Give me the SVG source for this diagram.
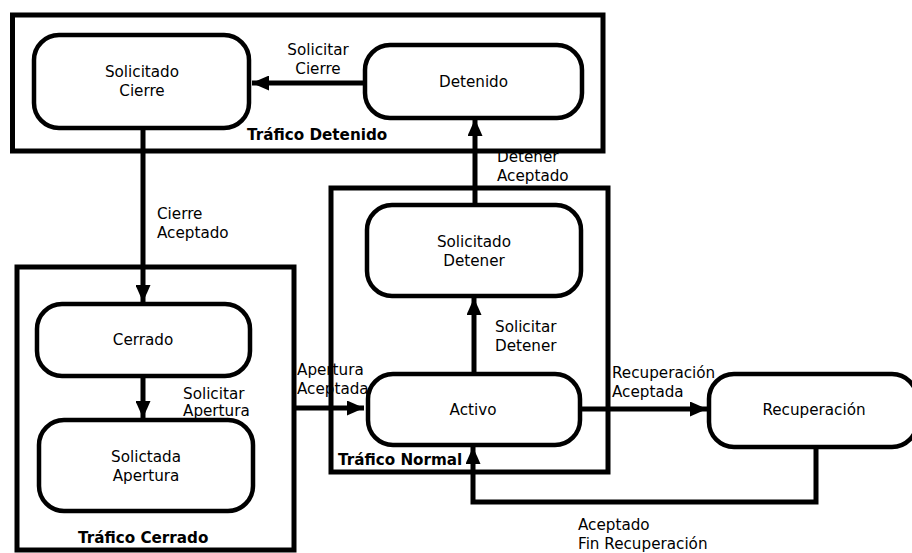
<svg xmlns="http://www.w3.org/2000/svg" width="912" height="553" viewBox="0 0 912 553">
  <style>
    text { font-family: "DejaVu Sans", "Liberation Sans", sans-serif; font-size: 15.2px; fill: #000; }
    .node rect { fill: #fff; stroke: #000; stroke-width: 4.5; }
    .node text { text-anchor: middle; }
    .edge { fill: none; stroke: #000; stroke-width: 5; marker-end: url(#arrow); }
    .group-box { fill: none; stroke: #000; stroke-width: 5; }
    .group-label { font-weight: bold; }
  </style>
  <defs>
    <marker id="arrow" markerUnits="userSpaceOnUse" markerWidth="17" markerHeight="15" refX="17" refY="7.5" orient="auto">
      <path d="M0,0 L17,7.5 L0,15 z" fill="#000"/>
    </marker>
  </defs>

  <rect width="912" height="553" fill="#fff"/>

  <!-- transitions -->
  <g id="connectors">
    <path class="edge" d="M365,83 L252,83"/>
    <path class="edge" d="M143,128 L143,302"/>
    <path class="edge" d="M143,376 L143,418"/>
    <path class="edge" d="M294,408 L364,408"/>
    <path class="edge" d="M474,374 L474,298"/>
    <path class="edge" d="M475,205 L475,119"/>
    <path class="edge" d="M580,409 L707,409"/>
    <path class="edge" d="M816,447 L816,502 L473,502 L473,447"/>
  </g>

  <!-- transition labels -->
  <g id="edge-labels">
    <text x="318" y="55" text-anchor="middle">Solicitar</text>
    <text x="318" y="74" text-anchor="middle">Cierre</text>
    <text x="157" y="219">Cierre</text>
    <text x="157" y="238">Aceptado</text>
    <text x="497" y="162">Detener</text>
    <text x="497" y="181">Aceptado</text>
    <text x="495" y="332">Solicitar</text>
    <text x="495" y="351">Detener</text>
    <text x="183" y="399">Solicitar</text>
    <text x="183" y="416">Apertura</text>
    <text x="297" y="375">Apertura</text>
    <text x="297" y="394">Aceptada</text>
    <text x="612" y="378">Recuperación</text>
    <text x="612" y="397">Aceptada</text>
    <text x="578" y="530">Aceptado</text>
    <text x="578" y="549">Fin Recuperación</text>
  </g>

  <!-- state groups -->
  <g id="grupo-detenido">
    <rect class="group-box" x="12.5" y="15" width="590.5" height="136"/>
    <text class="group-label" x="247" y="140">Tráfico Detenido</text>
  </g>
  <g id="grupo-normal">
    <rect class="group-box" x="331" y="188" width="277" height="284"/>
    <text class="group-label" x="338" y="465">Tráfico Normal</text>
  </g>
  <g id="grupo-cerrado">
    <rect class="group-box" x="17" y="267" width="277" height="283"/>
    <text class="group-label" x="78" y="543">Tráfico Cerrado</text>
  </g>

  <!-- states -->
  <g id="solicitado-cierre" class="node">
    <rect x="34" y="35" width="215" height="93" rx="25"/>
    <text x="142" y="77">Solicitado</text>
    <text x="142" y="96">Cierre</text>
  </g>
  <g id="detenido" class="node">
    <rect x="365" y="45" width="217" height="73" rx="25"/>
    <text x="473.5" y="87">Detenido</text>
  </g>
  <g id="cerrado" class="node">
    <rect x="37" y="304" width="213" height="72" rx="25"/>
    <text x="143" y="345">Cerrado</text>
  </g>
  <g id="solictada-apertura" class="node">
    <rect x="39" y="420" width="214" height="91" rx="25"/>
    <text x="146" y="462">Solictada</text>
    <text x="146" y="481">Apertura</text>
  </g>
  <g id="solicitado-detener" class="node">
    <rect x="367" y="205" width="214" height="91" rx="25"/>
    <text x="474" y="247">Solicitado</text>
    <text x="474" y="266">Detener</text>
  </g>
  <g id="activo" class="node">
    <rect x="368" y="374" width="212" height="71" rx="25"/>
    <text x="473" y="415">Activo</text>
  </g>
  <g id="recuperacion" class="node">
    <rect x="709" y="374" width="208" height="73" rx="25"/>
    <text x="814" y="415">Recuperación</text>
  </g>
</svg>
